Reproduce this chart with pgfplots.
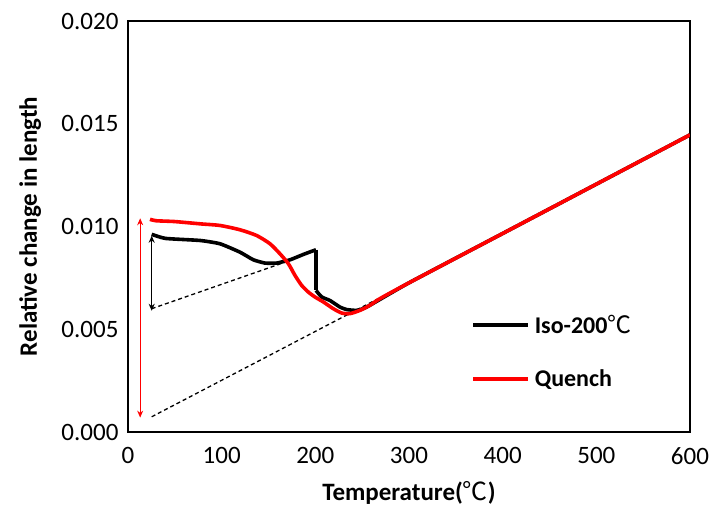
\documentclass[border=0pt]{standalone}
\usepackage{fontspec}
\setmainfont{Carlito}
\newfontfamily\cjk{Noto Sans CJK SC}
\usepackage{pgfplots}
\pgfplotsset{compat=1.18}
\usetikzlibrary{arrows.meta}
\newcommand{\degC}{{\cjk\mdseries ℃}}

\begin{document}
\begin{tikzpicture}
\begin{axis}[
  scale only axis, width=562pt, height=411pt,
  xmin=0, xmax=600, ymin=0, ymax=0.02,
  xtick distance=100, ytick distance=0.005,
  major tick length=0pt,
  axis line style={line width=1.6pt},
  font=\fontsize{25}{29}\selectfont,
  /pgf/number format/assume math mode=true,
  scaled y ticks=false,
  y tick label style={xshift=-6pt},
  yticklabel style={/pgf/number format/.cd, fixed, fixed zerofill, precision=3},
  xticklabel style={yshift=-12pt},
  xlabel={\bfseries Temperature(\degC)},
  ylabel={\bfseries Relative change in length},
  x label style={at={(axis description cs:0.5,-0.148)}, anchor=center},
  y label style={at={(axis description cs:-0.174,0.5)}, anchor=center},
  legend style={draw=none, fill=none, at={(rel axis cs:0.605,0.295)}, anchor=north west,
    font=\bfseries\fontsize{24}{28}\selectfont, row sep=31pt, nodes={inner xsep=5pt}},
  legend image code/.code={\draw[#1] (0pt,0pt) -- (55pt,0pt);},
  legend cell align=left,
]
% dashed baselines
\addplot[black, line width=1.3pt, dash pattern=on 4pt off 3pt, forget plot]
  coordinates {(25.3,0.00074) (360,0.0087)};
\addplot[black, line width=1.3pt, dash pattern=on 4pt off 3pt, forget plot]
  coordinates {(25.3,0.0060) (170,0.0083)};
% annotation arrows
\addplot[black, line width=1.1pt, {Stealth[length=7pt,width=6pt]}-{Stealth[length=7pt,width=6pt]}, forget plot]
  coordinates {(25.3,0.00955) (25.3,0.0059)};
\addplot[red, line width=1.1pt, {Stealth[length=7pt,width=6pt]}-{Stealth[length=7pt,width=6pt]}, forget plot]
  coordinates {(13,0.0104) (13,0.0007)};
% Iso-200
\addplot[black, line width=3.6pt, line join=round, smooth, tension=0.3] coordinates {
  (25.3,0.00962) (40,0.00942) (76.9,0.00932) (98.2,0.00916) (119.6,0.00875)
  (133.8,0.00838) (146.3,0.00822) (158.7,0.00822) (173,0.00838)
  (187.2,0.00864) (200.7,0.00887)};
\addlegendentry{Iso-200\degC}
\addplot[black, line width=3.6pt, line join=round, forget plot] coordinates {
  (200.7,0.00887) (200.7,0.00689)};
\addplot[black, line width=3.6pt, line join=round, smooth, tension=0.3, forget plot] coordinates {
  (200.7,0.00689) (206.8,0.00657) (215.6,0.0064) (226.3,0.00608) (233.4,0.00596)
  (244,0.00592) (254.8,0.00608) (300,0.00726) (400,0.00966) (500,0.01206) (600,0.01446)};
% Quench
\addplot[red, line width=3.6pt, line join=round, smooth, tension=0.4] coordinates {
  (23.5,0.01035) (30,0.01028) (50,0.01024) (76.9,0.01013) (98.2,0.01005)
  (119.6,0.00984) (137.4,0.00956) (151.6,0.00916) (162.3,0.00867)
  (171.2,0.00819) (178.3,0.00762) (185.3,0.00714) (192.5,0.00681)
  (199.6,0.00657) (208.5,0.00633) (219.2,0.0060) (228.1,0.00579)
  (237,0.00576) (247.7,0.00592) (258.4,0.00617) (269,0.00649)
  (300,0.00726) (400,0.00966) (500,0.01206) (600,0.01446)};
\addlegendentry{Quench}
\end{axis}
\pgfresetboundingbox
\path (-128pt,-77pt) rectangle (582pt,432pt);
\end{tikzpicture}
\end{document}
